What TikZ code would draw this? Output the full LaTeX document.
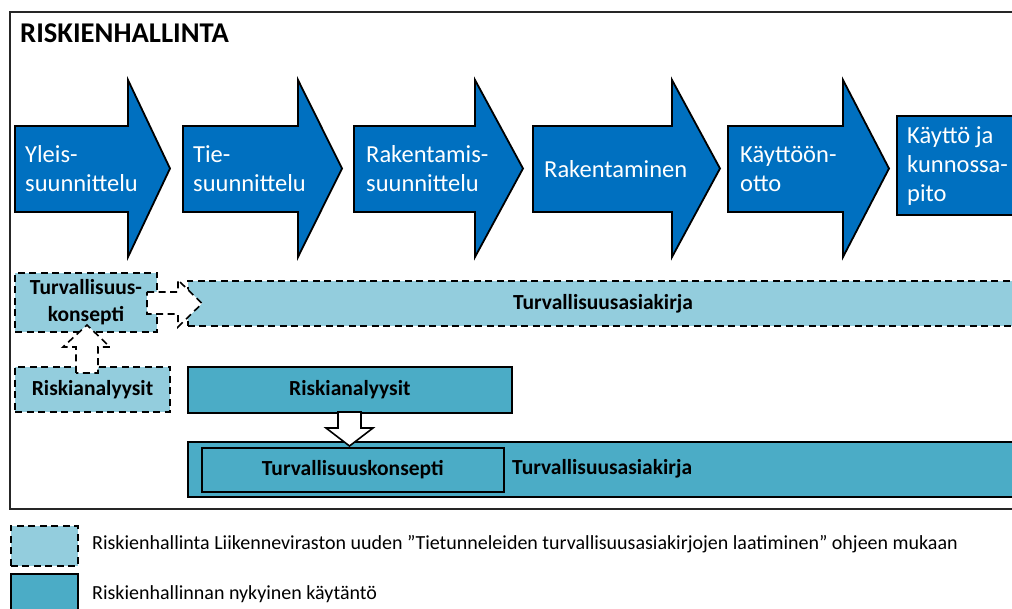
\documentclass[tikz,border=0pt]{standalone}
\usepackage{fontspec}
\setmainfont{Carlito}
\definecolor{phaseblue}{HTML}{0070C0}
\definecolor{lightcyan}{HTML}{93CDDD}
\definecolor{midcyan}{HTML}{4BACC6}
\newcommand\phasearrow[3]{%
  \draw[phase] (#1,126) -- (#2,126) -- (#2,80) -- (#3,168.5) -- (#2,257) -- (#2,212) -- (#1,212) -- cycle;}
\begin{document}
\begin{tikzpicture}[x=1pt,y=-1pt,
  phase/.style={fill=phaseblue, draw=black, line width=1.8pt, line join=miter},
  phasetext/.style={text=white, font=\fontsize{24.5}{29}\selectfont, align=left, anchor=west, inner sep=0pt},
  newbox/.style={fill=lightcyan, draw=black, dash pattern=on 7pt off 4.5pt, line width=1.6pt, inner sep=0pt},
  curbox/.style={fill=midcyan, draw=black, line width=1.6pt, inner sep=0pt},
  newarrow/.style={fill=white, draw=black, dash pattern=on 7pt off 4.5pt, line width=1.6pt},
  curarrow/.style={fill=white, draw=black, line width=1.6pt},
  lbl/.style={font=\bfseries\fontsize{21.5}{27}\selectfont, align=center, inner sep=0pt},
  legtext/.style={font=\fontsize{20}{24}\selectfont, anchor=base west, inner sep=0pt}]
\useasboundingbox (0,0) rectangle (1012,609);
\clip (0,0) rectangle (1012,609);
\fill[white] (0,0) rectangle (1012,609);
% frame
\draw[line width=2.2pt, draw=black!85] (10,12) rectangle (1040,509);
\node[anchor=base west, inner sep=0pt, font=\bfseries\fontsize{28.6}{32}\selectfont] (title) at (20,43) {RISKIENHALLINTA};
% phases
\phasearrow{15}{128}{170}
\phasearrow{183}{298}{342}
\phasearrow{354}{475}{523}
\phasearrow{533}{672}{720}
\phasearrow{728}{843}{889}
\draw[phase] (897,116) rectangle (1040,215);
\node[phasetext] (p1) at (25,169) {Yleis-\\suunnittelu};
\node[phasetext] (p2) at (193,169) {Tie-\\suunnittelu};
\node[phasetext] (p3) at (366,169) {Rakentamis-\\suunnittelu};
\node[phasetext] (p4) at (544,169) {Rakentaminen};
\node[phasetext] (p5) at (740,169) {Käyttöön-\\otto};
\node[phasetext] (p6) at (907,166) {Käyttö ja\\kunnossa-\\pito};
% new practice (dashed)
\node[newbox, minimum width=142pt, minimum height=59pt] (tk) at (86,302.5) {};
\node[newbox, minimum width=860pt, minimum height=45pt, anchor=west] (ta) at (187,303.5) {};
\node[newbox, minimum width=155pt, minimum height=45pt] (ra) at (92.5,389.5) {};
\draw[newarrow] (147,292) -- (178,292) -- (178,280) -- (202,303.5) -- (178,327) -- (178,314) -- (147,314) -- cycle;
\draw[newarrow] (76,373) -- (76,347) -- (63,347) -- (87,325) -- (110,347) -- (98,347) -- (98,373) -- cycle;
\node[lbl] at (tk) {Turvallisuus-\\konsepti};
\node[lbl] at (603,303.5) {Turvallisuusasiakirja};
\node[lbl] at (ra) {Riskianalyysit};
% current practice (solid)
\node[curbox, minimum width=324pt, minimum height=46pt, anchor=north west, label={[lbl]center:Riskianalyysit}] (cra) at (187,366) {};
\node[curbox, minimum width=860pt, minimum height=55pt, anchor=north west] (cta) at (187,441) {};
\node[curbox, minimum width=302pt, minimum height=44pt, anchor=north west, label={[lbl]center:Turvallisuuskonsepti}] (ctk) at (201,447) {};
\node[lbl, anchor=west] (ctal) at (512,469) {Turvallisuusasiakirja};
\draw[curarrow] (338,412) -- (338,428) -- (326,428) -- (349.5,446) -- (373,428) -- (361,428) -- (361,412) -- cycle;
% legend
\node[newbox, minimum width=67pt, minimum height=40pt, anchor=north west] (lg1) at (10,525) {};
\node[curbox, minimum width=67pt, minimum height=40pt, anchor=north west] (lg2) at (10,573) {};
\node[legtext] (lt1) at (92,549) {Riskienhallinta Liikenneviraston uuden ”Tietunneleiden turvallisuusasiakirjojen laatiminen” ohjeen mukaan};
\node[legtext] (lt2) at (92,599) {Riskienhallinnan nykyinen käytäntö};
\end{tikzpicture}
\end{document}
